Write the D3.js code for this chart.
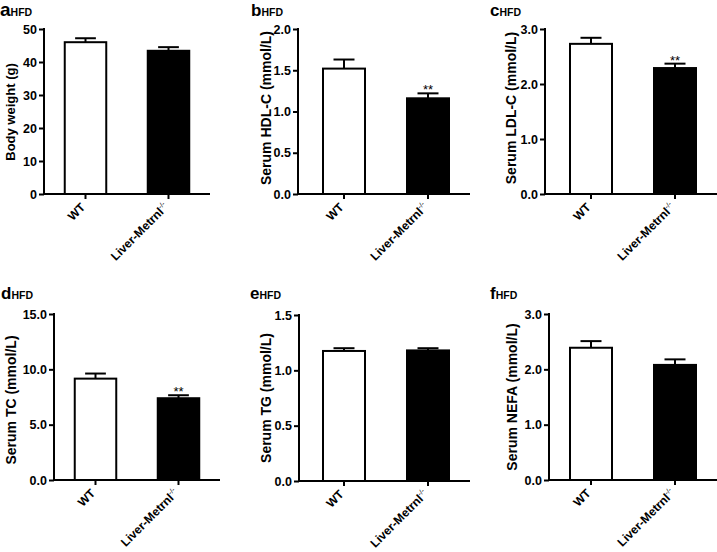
<!DOCTYPE html>
<html>
<head>
<meta charset="utf-8">
<script src="https://cdn.jsdelivr.net/npm/d3@7/dist/d3.min.js"></script>
<style>
  html, body { margin: 0; padding: 0; background: #fff; }
  svg { display: block; }
  text { font-family: "Liberation Sans", Arial, sans-serif; }
</style>
</head>
<body>
<svg id="chart" width="717" height="552"></svg>
<script>
// ---- data ----
const panelLetters = ["a", "b", "c", "d", "e", "f"];
const dietLabel = "HFD";
const categories = ["WT", "Liver-Metrnl"];
const categorySuperscripts = ["", "-/-"];
const yTitles = ["Body weight (g)", "Serum HDL-C (mmol/L)", "Serum LDL-C (mmol/L)",
                 "Serum TC (mmol/L)", "Serum TG (mmol/L)", "Serum NEFA (mmol/L)"];
const wtMean = [46.0, 1.52, 2.73, 9.16, 1.175, 2.39];
const wtSem  = [1.2, 0.11, 0.11, 0.46, 0.025, 0.12];
const koMean = [43.4, 1.16, 2.29, 7.39, 1.18, 2.08];
const koSem  = [1.1, 0.06, 0.08, 0.27, 0.02, 0.10];
const significance = ["", "**", "**", "**", "", ""];
const yMax = [50, 2.0, 3.0, 15.0, 1.5, 3.0];
const yTicks = [
  [0, 10, 20, 30, 40, 50],
  [0, 0.5, 1.0, 1.5, 2.0],
  [0, 1.0, 2.0, 3.0],
  [0, 5.0, 10.0, 15.0],
  [0, 0.5, 1.0, 1.5],
  [0, 1.0, 2.0, 3.0]
];
const tickFormats = ["d", ".1f", ".1f", ".1f", ".1f", ".1f"];

// ---- layout ----
const layout = [
  {ax: 44,  x0: 44,  x1: 210, top: 29,  bot: 194, tx: 15,  ty: 112, tSize: 13, lx: 0,   ly: 16,  ls: 19},
  {ax: 298, x0: 302, x1: 470, top: 29,  bot: 194, tx: 271, ty: 108, tSize: 14, lx: 251, ly: 16,  ls: 17},
  {ax: 545, x0: 549, x1: 717, top: 29,  bot: 194, tx: 516, ty: 108, tSize: 14, lx: 490, ly: 16,  ls: 17},
  {ax: 54,  x0: 54,  x1: 220, top: 314, bot: 480, tx: 16,  ty: 400, tSize: 14, lx: 1,   ly: 299, ls: 17},
  {ax: 299, x0: 302, x1: 470, top: 315, bot: 481, tx: 271, ty: 398, tSize: 14, lx: 250, ly: 299, ls: 17},
  {ax: 549, x0: 549, x1: 717, top: 314, bot: 480, tx: 517, ty: 397, tSize: 14, lx: 490, ly: 299, ls: 17}
];

const svg = d3.select("#chart");
svg.append("rect").attr("width", 717).attr("height", 552).attr("fill", "#fff");

panelLetters.forEach((letter, i) => {
  const L = layout[i];
  const g = svg.append("g");
  const y = d3.scaleLinear().domain([0, yMax[i]]).range([L.bot, L.top]);
  const x = d3.scaleBand().domain(categories).range([L.x0, L.x1]).paddingInner(0.5).paddingOuter(0.25);
  const means = [wtMean[i], koMean[i]];
  const sems = [wtSem[i], koSem[i]];
  const rows = categories.map((c, k) => ({c, k, m: means[k], s: sems[k], sup: categorySuperscripts[k]}));

  // bars
  g.selectAll("rect.bar").data(rows).enter().append("rect")
    .attr("x", d => x(d.c))
    .attr("y", d => y(d.m))
    .attr("width", x.bandwidth())
    .attr("height", d => y(0) - y(d.m))
    .attr("fill", d => d.k === 0 ? "#fff" : "#000")
    .attr("stroke", "#000")
    .attr("stroke-width", 2);

  // error bars (upper)
  const cap = x.bandwidth() * 0.25;
  rows.forEach(d => {
    const cx = x(d.c) + x.bandwidth() / 2;
    g.append("line").attr("x1", cx).attr("x2", cx)
      .attr("y1", y(d.m)).attr("y2", y(d.m + d.s))
      .attr("stroke", "#000").attr("stroke-width", 2);
    g.append("line").attr("x1", cx - cap).attr("x2", cx + cap)
      .attr("y1", y(d.m + d.s)).attr("y2", y(d.m + d.s))
      .attr("stroke", "#000").attr("stroke-width", 2);
  });

  // significance
  if (significance[i]) {
    const d = rows[1];
    g.append("text")
      .attr("x", x(d.c) + x.bandwidth() / 2)
      .attr("y", y(d.m + d.s) + 1)
      .attr("text-anchor", "middle")
      .attr("font-size", 13)
      .attr("fill", "#000")
      .text(significance[i]);
  }

  // y axis
  const yAxis = d3.axisLeft(y).tickValues(yTicks[i]).tickFormat(d3.format(tickFormats[i]))
    .tickSize(5).tickSizeOuter(0).tickPadding(2);
  const ya = g.append("g").attr("transform", `translate(${L.ax},0)`).call(yAxis);
  ya.select(".domain").attr("stroke", "#000").attr("stroke-width", 2)
    .attr("d", `M0,${L.top - 1}V${L.bot + 1}`);
  ya.selectAll(".tick line").attr("stroke", "#000").attr("stroke-width", 2);
  ya.selectAll(".tick text").attr("font-family", "Liberation Sans, Arial, sans-serif")
    .attr("font-size", 12.5).attr("font-weight", "bold").attr("fill", "#000");

  // x axis
  const xAxis = d3.axisBottom(x).tickSize(5).tickSizeOuter(0).tickFormat("");
  const xa = g.append("g").attr("transform", `translate(0,${L.bot})`).call(xAxis);
  xa.select(".domain").attr("stroke", "#000").attr("stroke-width", 2)
    .attr("d", `M${L.ax - 1},0H${L.x1}`);
  xa.selectAll(".tick line").attr("stroke", "#000").attr("stroke-width", 2);

  // rotated x labels
  rows.forEach(d => {
    const cx = x(d.c) + x.bandwidth() / 2;
    const t = g.append("text")
      .attr("transform", `translate(${cx + 0.5},${L.bot + 14}) rotate(-45)`)
      .attr("text-anchor", "end")
      .attr("font-size", 12)
      .attr("font-weight", "bold")
      .attr("fill", "#000");
    t.append("tspan").text(d.c);
    if (d.sup) {
      t.append("tspan").attr("dy", -5).attr("font-size", 7).attr("font-weight", "normal").text(d.sup);
    }
  });

  // y title
  g.append("text")
    .attr("transform", `translate(${L.tx},${L.ty}) rotate(-90)`)
    .attr("text-anchor", "middle")
    .attr("font-size", L.tSize)
    .attr("font-weight", "bold")
    .attr("fill", "#000")
    .text(yTitles[i]);

  // panel letter + HFD
  const lt = g.append("text").attr("x", L.lx).attr("y", L.ly)
    .attr("font-weight", "bold").attr("fill", "#000");
  lt.append("tspan").attr("font-size", L.ls).text(letter);
  lt.append("tspan").attr("font-size", 10.5).text(dietLabel);
});
</script>
</body>
</html>
